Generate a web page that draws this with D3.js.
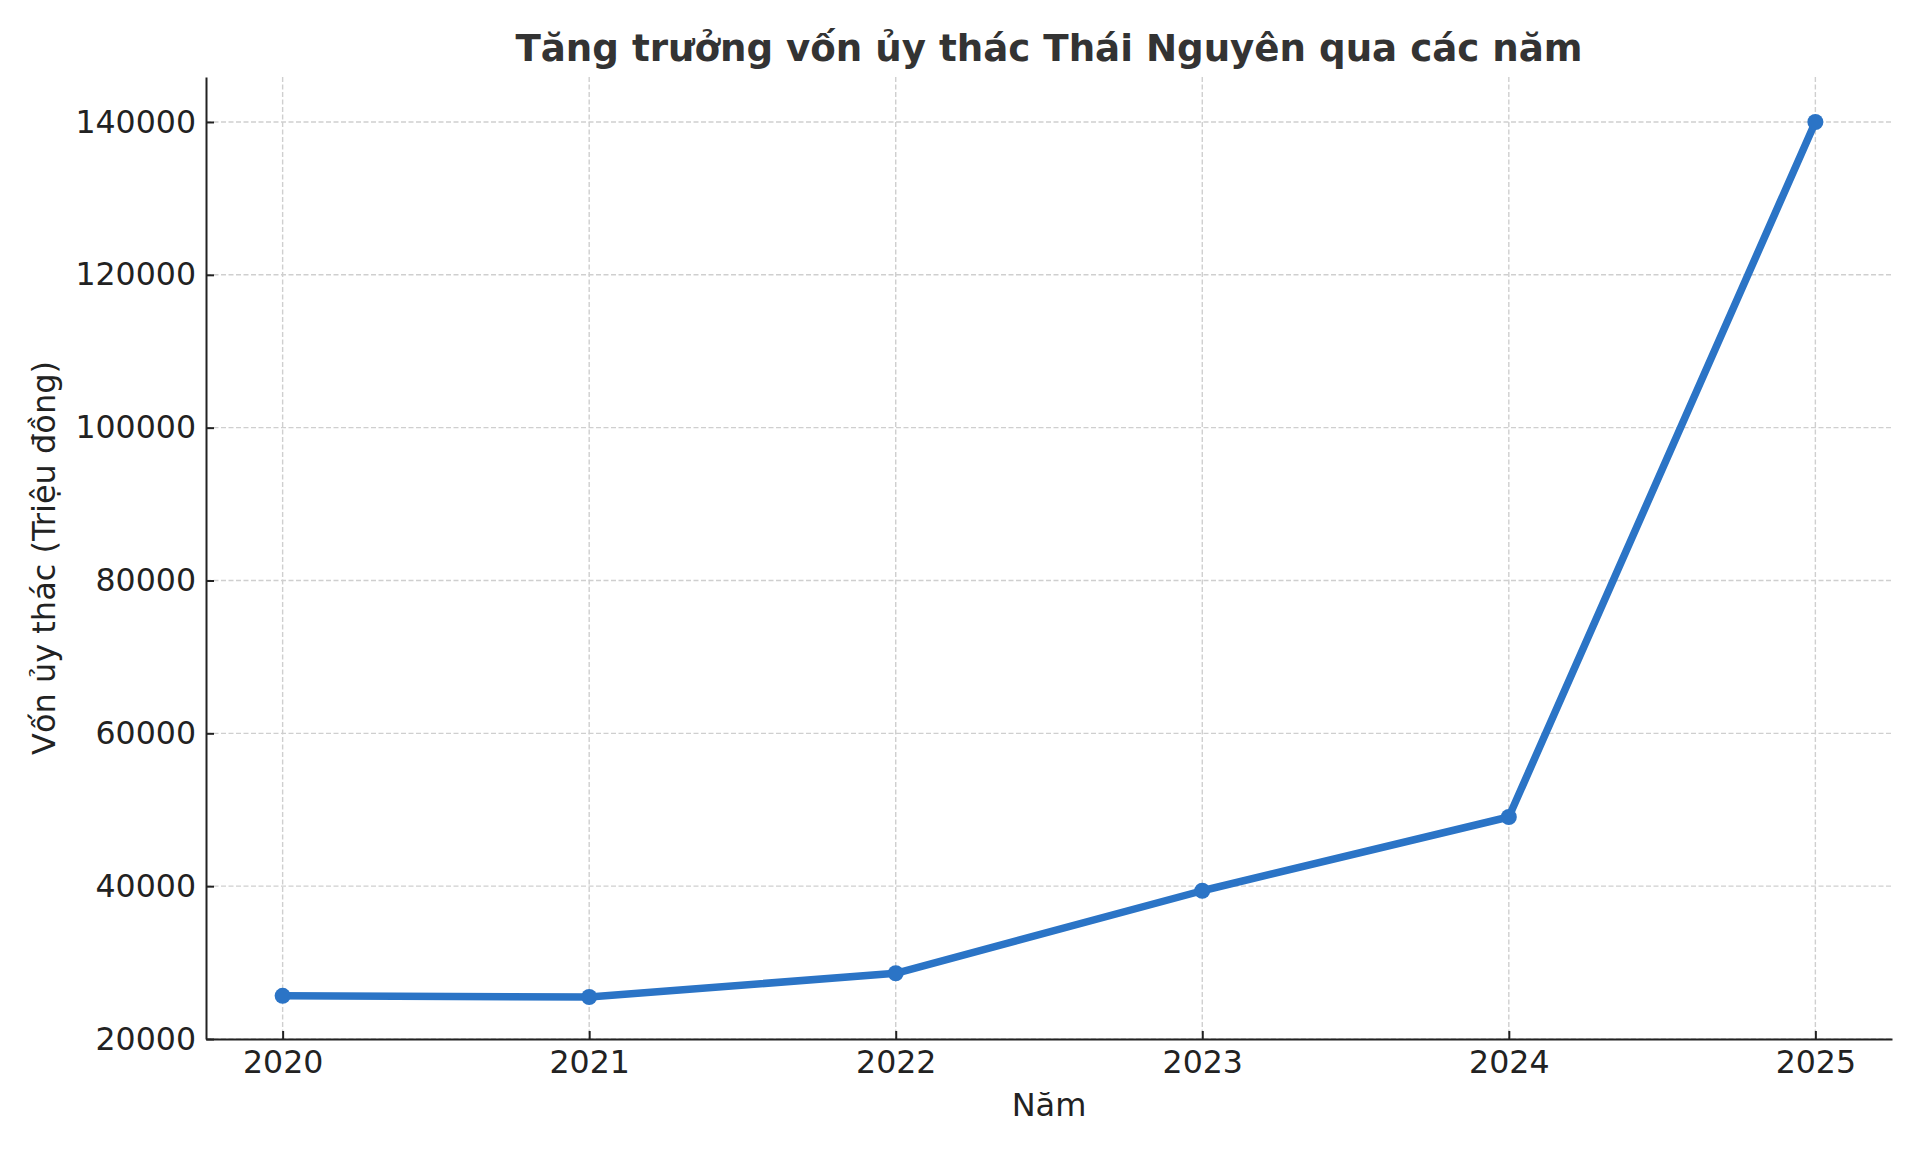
<!DOCTYPE html>
<html>
<head>
<meta charset="utf-8">
<script src="https://cdn.jsdelivr.net/npm/d3@7"></script>
<style>
    body { margin: 0; background: #fff; }
    text { font-family: "DejaVu Sans", sans-serif; }
</style>
</head>
<body>
<div id="chart"></div>
<script>
// data
var years = [2020, 2021, 2022, 2023, 2024, 2025]
var funds = [25650, 25500, 28600, 39400, 49050, 140000]
var yTicks = [20000, 40000, 60000, 80000, 100000, 120000, 140000]

var titleText = "Tăng trưởng vốn ủy thác Thái Nguyên qua các năm"
var xLabelText = "Năm"
var yLabelText = "Vốn ủy thác (Triệu đồng)"

var W = 1920, H = 1152
var margin = { left: 206, right: 28, top: 77, bottom: 113 }
var width = W - margin.left - margin.right,
    height = H - margin.top - margin.bottom

var lineColor = "#2b74c6"

var svg = d3.select("#chart")
    .append("svg")
        .attr("width", W)
        .attr("height", H)
    .append("g")
        .attr("transform", "translate(" + margin.left + "," + margin.top + ")")

var data = years.map(function(y, i){ return { year: y, val: funds[i] } })

// matplotlib style 5% padding on x, y starts at 20000
var x = d3.scaleLinear()
    .domain([years[0] - 0.25, years[years.length - 1] + 0.25])
    .range([0, width])

var y = d3.scaleLinear()
    .domain([20000, 145886])
    .range([height, 0])

// grid
svg.append("g").selectAll("line")
    .data(yTicks)
    .enter().append("line")
        .attr("x1", 0).attr("x2", width)
        .attr("y1", d => y(d)).attr("y2", d => y(d))
        .attr("stroke", "#cfcfcf")
        .attr("stroke-width", 1.4)
        .attr("stroke-dasharray", "5,2.5")

svg.append("g").selectAll("line")
    .data(years)
    .enter().append("line")
        .attr("x1", d => x(d)).attr("x2", d => x(d))
        .attr("y1", 0).attr("y2", height)
        .attr("stroke", "#cfcfcf")
        .attr("stroke-width", 1.4)
        .attr("stroke-dasharray", "5,2.5")

// axes, ticks pointing inward
var xAxis = d3.axisBottom(x)
    .tickValues(years)
    .tickFormat(d3.format("d"))
    .tickSizeInner(-8)
    .tickSizeOuter(0)
    .tickPadding(12)

var yAxis = d3.axisLeft(y)
    .tickValues(yTicks)
    .tickFormat(d3.format("d"))
    .tickSizeInner(-8)
    .tickSizeOuter(0)
    .tickPadding(10)

var xAxisCall = svg.append("g")
    .attr("transform", "translate(0," + height + ")")
    .call(xAxis)

var yAxisCall = svg.append("g")
    .call(yAxis)

;[xAxisCall, yAxisCall].forEach(function(g){
    g.select(".domain").attr("stroke", "#222").attr("stroke-width", 2)
    g.selectAll(".tick line").attr("stroke", "#222").attr("stroke-width", 2)
    g.selectAll(".tick text")
        .attr("fill", "#222")
        .attr("font-size", "31.6px")
        .style("font-family", "DejaVu Sans")
})

// line + markers
svg.append("path")
    .datum(data)
    .attr("fill", "none")
    .attr("stroke", lineColor)
    .attr("stroke-width", 7.5)
    .attr("stroke-linejoin", "round")
    .attr("d", d3.line()
        .x(d => x(d.year))
        .y(d => y(d.val)))

svg.selectAll(".marker")
    .data(data)
    .enter().append("circle")
        .attr("class", "marker")
        .attr("cx", d => x(d.year))
        .attr("cy", d => y(d.val))
        .attr("r", 8)
        .attr("fill", lineColor)

// titles
svg.append("text")
    .attr("x", width / 2)
    .attr("y", 61 - margin.top)
    .attr("text-anchor", "middle")
    .attr("font-size", "37.2px")
    .attr("font-weight", "bold")
    .attr("fill", "#333")
    .text(titleText)

svg.append("text")
    .attr("x", width / 2)
    .attr("y", 1116 - margin.top)
    .attr("text-anchor", "middle")
    .attr("font-size", "32px")
    .attr("fill", "#222")
    .text(xLabelText)

svg.append("text")
    .attr("transform", "rotate(-90)")
    .attr("x", -height / 2)
    .attr("y", 55 - margin.left)
    .attr("text-anchor", "middle")
    .attr("font-size", "32px")
    .attr("fill", "#222")
    .text(yLabelText)
</script>
</body>
</html>
